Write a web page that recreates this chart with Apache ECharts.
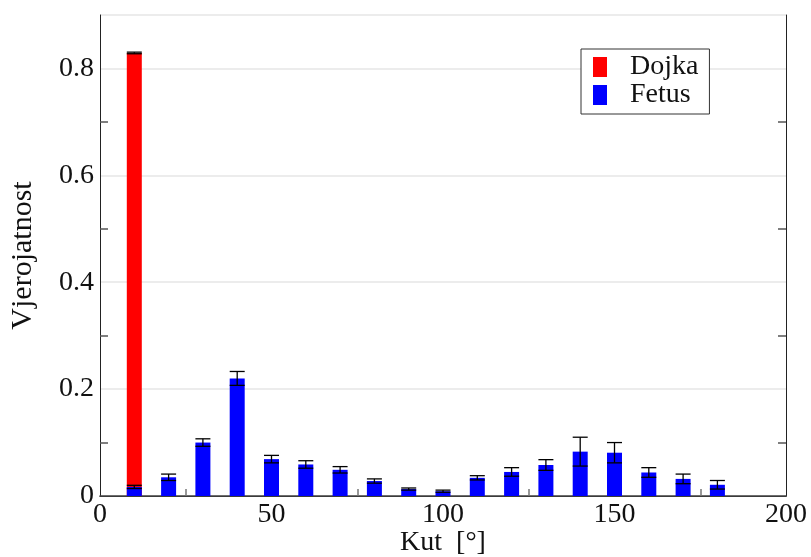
<!DOCTYPE html>
<html>
<head>
<meta charset="utf-8">
<script src="https://cdn.jsdelivr.net/npm/echarts@6/dist/echarts.min.js"></script>
<style>
  html, body { margin: 0; padding: 0; background: #fff; }
  #chart { width: 811px; height: 557px; }
</style>
</head>
<body>
<div id="chart"></div>
<script>
  // angle categories (deg)
  const angles = [10, 20, 30, 40, 50, 60, 70, 80, 90, 100, 110, 120, 130, 140, 150, 160, 170, 180];
  const fetus = [0.017, 0.035, 0.100, 0.220, 0.069, 0.059, 0.049, 0.028, 0.013, 0.009, 0.034, 0.045, 0.058, 0.083, 0.081, 0.044, 0.032, 0.021];
  const fetusErr = [0.003, 0.006, 0.007, 0.013, 0.007, 0.007, 0.006, 0.004, 0.002, 0.002, 0.004, 0.008, 0.010, 0.027, 0.019, 0.009, 0.009, 0.008];
  const dojka = [0.812, 0, 0, 0, 0, 0, 0, 0, 0, 0, 0, 0, 0, 0, 0, 0, 0, 0];
  const dojkaErr = [0.0015, 0, 0, 0, 0, 0, 0, 0, 0, 0, 0, 0, 0, 0, 0, 0, 0, 0];
  const yLabels = [0, 0.2, 0.4, 0.6, 0.8];
  const yMinorTicks = [0.1, 0.3, 0.5, 0.7];

  const font = 'Liberation Serif';
  const chart = echarts.init(document.getElementById('chart'));

  function renderErr(params, api) {
    const x = api.value(0), m = api.value(1), e = api.value(2);
    if (!e) return null;
    const hi = api.coord([x, m + e]);
    const lo = api.coord([x, m - e]);
    const hw = 7.5;
    const st = { stroke: '#000', lineWidth: 1.3 };
    return {
      type: 'group',
      children: [
        { type: 'line', shape: { x1: hi[0], y1: hi[1], x2: lo[0], y2: lo[1] }, style: st },
        { type: 'line', shape: { x1: hi[0] - hw, y1: hi[1], x2: hi[0] + hw, y2: hi[1] }, style: st },
        { type: 'line', shape: { x1: lo[0] - hw, y1: lo[1], x2: lo[0] + hw, y2: lo[1] }, style: st }
      ]
    };
  }

  // stacked: Dojka sits on top of Fetus, so draw it to the total and let Fetus cover the bottom
  const fetusPts = angles.map((a, i) => [a, fetus[i]]);
  const dojkaPts = angles.map((a, i) => [a, dojka[i] ? fetus[i] + dojka[i] : 0]);
  const fetusErrPts = angles.map((a, i) => [a, fetus[i], fetusErr[i]]);
  const dojkaErrPts = angles.map((a, i) => [a, fetus[i] + dojka[i], dojkaErr[i]]);

  const option = {
    animation: false,
    textStyle: { fontFamily: font },
    grid: { left: 100, right: 25, top: 15, bottom: 61, containLabel: false, outerBoundsMode: 'none' },
    legend: {
      orient: 'vertical',
      left: 581,
      top: 49,
      data: ['Dojka', 'Fetus'],
      icon: 'rect',
      itemWidth: 14,
      itemHeight: 20,
      itemGap: 0,
      padding: [4, 11, 5, 12],
      borderColor: '#333',
      borderWidth: 1,
      backgroundColor: '#fff',
      textStyle: { fontFamily: font, fontSize: 28, color: '#111', lineHeight: 27, padding: [0, 0, 0, 18] }
    },
    xAxis: [
      {
        type: 'value', min: 0, max: 200, interval: 50,
        name: 'Kut  [°]', nameLocation: 'middle', nameGap: 33, nameMoveOverlap: false,
        nameTextStyle: { fontFamily: font, fontSize: 28, color: '#111' },
        axisLine: { show: true, lineStyle: { color: '#222', width: 1 } },
        axisTick: { show: false, inside: true },
        minorTick: { show: true, splitNumber: 2, length: 7, lineStyle: { color: '#777', width: 1.5 } },
        axisLabel: { fontFamily: font, fontSize: 28, color: '#111', margin: 5 },
        splitLine: { show: false }
      },
      {
        type: 'value', min: 0, max: 200, position: 'top',
        axisLine: { show: true, lineStyle: { color: '#444', width: 1.5 } },
        axisTick: { show: false }, axisLabel: { show: false }, splitLine: { show: false }
      }
    ],
    yAxis: [
      {
        type: 'value', min: 0, max: 0.9, interval: 0.2,
        name: 'Vjerojatnost', nameLocation: 'middle', nameGap: 62,
        nameTextStyle: { fontFamily: font, fontSize: 30, color: '#111' },
        axisLine: { show: true, lineStyle: { color: '#222', width: 1 } },
        axisTick: { show: false },
        axisLabel: {
          fontFamily: font, fontSize: 28, color: '#111', margin: 6,
          customValues: yLabels,
          formatter: v => (v === 0 ? '0' : v.toFixed(1))
        },
        splitLine: { show: true, lineStyle: { color: '#e6e6e6', width: 1.5 } }
      },
      {
        type: 'value', min: 0, max: 0.9, position: 'left',
        axisLine: { show: false },
        axisTick: { show: true, inside: true, length: 8, customValues: yMinorTicks, lineStyle: { color: '#555', width: 1.5 } },
        axisLabel: { show: false }, splitLine: { show: false }
      },
      {
        type: 'value', min: 0, max: 0.9, position: 'right',
        axisLine: { show: true, lineStyle: { color: '#222', width: 1 } },
        axisTick: { show: true, inside: true, length: 8, customValues: yMinorTicks, lineStyle: { color: '#555', width: 1.5 } },
        axisLabel: { show: false }, splitLine: { show: false }
      }
    ],
    series: [
      {
        name: 'Dojka', type: 'bar', barWidth: 15, barGap: '-100%',
        itemStyle: { color: '#ff0000' }, data: dojkaPts, z: 2
      },
      {
        name: 'Fetus', type: 'bar', barWidth: 15, barGap: '-100%',
        itemStyle: { color: '#0000ff' }, data: fetusPts, z: 3
      },
      {
        name: 'errF', type: 'custom', renderItem: renderErr, data: fetusErrPts, z: 5,
        encode: { x: 0, y: 1 }
      },
      {
        name: 'errD', type: 'custom', renderItem: renderErr, data: dojkaErrPts, z: 5,
        encode: { x: 0, y: 1 }
      }
    ]
  };
  chart.setOption(option);
</script>
</body>
</html>
